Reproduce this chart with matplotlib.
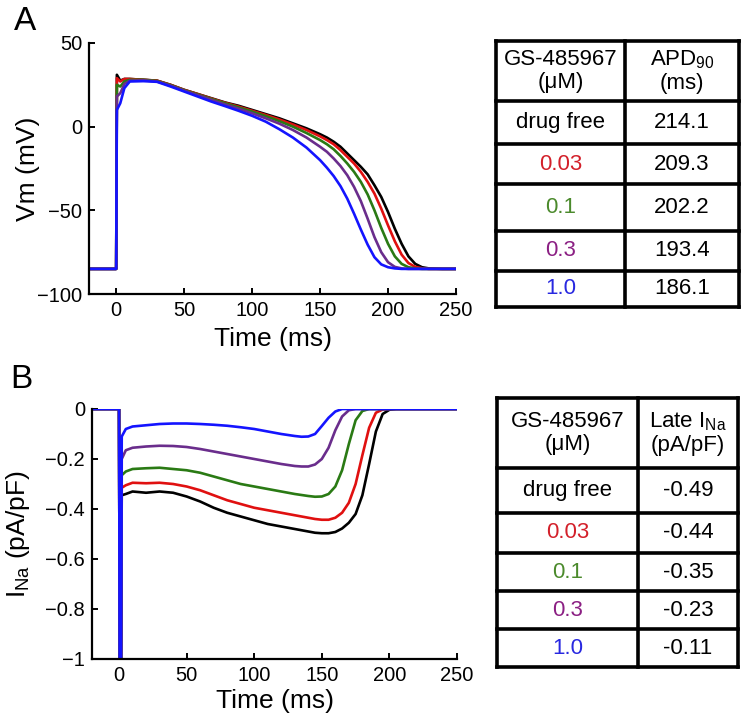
import matplotlib
matplotlib.use("Agg")
import matplotlib.pyplot as plt

plt.rcParams['font.family'] = ['Liberation Sans', 'DejaVu Sans']
plt.rcParams['mathtext.fontset'] = 'custom'
plt.rcParams['mathtext.rm'] = 'Liberation Sans'
plt.rcParams['mathtext.it'] = 'Liberation Sans'

# ---------------- data ----------------
conc_labels = ["drug free", "0.03", "0.1", "0.3", "1.0"]
apd90 = ["214.1", "209.3", "202.2", "193.4", "186.1"]
late_ina = ["-0.49", "-0.44", "-0.35", "-0.23", "-0.11"]

# Panel A: membrane potential (mV)
t_vm = [-20, 0, 0.5, 3, 6, 10, 20, 30, 40, 50, 60, 70, 80, 90, 100, 110, 120, 130,
        140, 150, 155, 160, 165, 170, 175, 180, 185, 190, 195, 200, 205, 210, 215,
        220, 225, 230, 240, 250]
vm_free = [-85, -85, 31, 27.5, 28.5, 28.5, 28, 27.5, 25, 22, 19.5, 17, 14.5, 12.5, 10,
           7.5, 5, 2, -1, -4.5, -6.5, -9, -12, -16, -20, -24, -28.5, -35, -42, -51, -61,
           -70, -77.5, -82, -84, -84.7, -85, -85]
vm_003 = [-85, -85, 29, 27, 28.5, 28.5, 28, 27.5, 25, 22, 19.5, 16.8, 14.3, 12, 9.5,
          7, 4.3, 1.3, -2, -5.8, -8, -10.5, -14, -18, -22, -27, -33, -40, -49, -59, -68.5,
          -76.5, -81.5, -83.8, -84.6, -85, -85, -85]
vm_01 = [-85, -85, 25, 24, 27, 28, 28, 27.3, 24.8, 21.8, 19.2, 16.5, 14, 11.5, 9, 6.3,
         3.3, 0, -3.8, -8, -10.5, -13.5, -17.5, -22, -27, -33, -40.5, -50, -60.5, -70,
         -77.5, -82, -84, -84.7, -85, -85, -85, -85]
vm_03 = [-85, -85, 18, 20, 25.5, 27.5, 27.7, 27, 24.5, 21.5, 18.8, 16, 13.3, 10.7, 8, 5,
         1.8, -2, -6.5, -12, -15, -19, -23.5, -29, -36, -44.5, -55, -66, -75, -81, -83.8,
         -84.7, -85, -85, -85, -85, -85, -85]
vm_10 = [-85, -85, 10, 14, 23, 27, 27.2, 26.8, 24, 21, 18, 15, 12.3, 9.5, 6.5, 3, -1.5,
         -6.5, -12.5, -20, -24.5, -29.5, -35.5, -43, -52, -61.5, -70.5, -78, -82.3, -84,
         -84.7, -85, -85, -85, -85, -85, -85, -85]

# Panel B: sodium current (pA/pF)
t_ina = [-20, 0, 0.5, 1.5, 2, 5, 10, 20, 30, 40, 50, 60, 70, 80, 90, 100, 110, 120, 130,
         135, 140, 145, 150, 155, 160, 165, 170, 175, 180, 185, 190, 195, 200, 205, 250]
ina_free = [0, 0, -1, -1, -0.345, -0.34, -0.33, -0.335, -0.33, -0.335, -0.35, -0.37,
            -0.395, -0.415, -0.43, -0.445, -0.46, -0.47, -0.48, -0.485, -0.49, -0.495,
            -0.497, -0.497, -0.492, -0.478, -0.455, -0.42, -0.345, -0.22, -0.09, -0.02,
            -0.003, 0, 0]
ina_003 = [0, 0, -1, -1, -0.315, -0.305, -0.295, -0.297, -0.295, -0.3, -0.31, -0.325,
           -0.345, -0.365, -0.38, -0.395, -0.405, -0.415, -0.425, -0.43, -0.435, -0.44,
           -0.443, -0.443, -0.435, -0.415, -0.375, -0.3, -0.185, -0.075, -0.015, -0.002, 0,
           0, 0]
ina_01 = [0, 0, -1, -1, -0.265, -0.25, -0.24, -0.237, -0.235, -0.24, -0.245, -0.255,
          -0.27, -0.285, -0.3, -0.31, -0.32, -0.33, -0.34, -0.344, -0.348, -0.351, -0.35,
          -0.34, -0.31, -0.245, -0.14, -0.045, -0.008, 0, 0, 0, 0, 0, 0]
ina_03 = [0, 0, -1, -1, -0.2, -0.165, -0.155, -0.15, -0.147, -0.148, -0.152, -0.16,
          -0.17, -0.18, -0.19, -0.2, -0.21, -0.22, -0.228, -0.23, -0.23, -0.222, -0.2,
          -0.155, -0.085, -0.03, -0.005, 0, 0, 0, 0, 0, 0, 0, 0]
ina_10 = [0, 0, -1, -1, -0.11, -0.08, -0.07, -0.065, -0.06, -0.058, -0.058, -0.06,
          -0.063, -0.067, -0.073, -0.08, -0.09, -0.1, -0.108, -0.111, -0.11, -0.1, -0.068,
          -0.035, -0.01, 0, 0, 0, 0, 0, 0, 0, 0, 0, 0]

vm_series = [vm_free, vm_003, vm_01, vm_03, vm_10]
ina_series = [ina_free, ina_003, ina_01, ina_03, ina_10]

# ---------------- styles ----------------
line_colors = ["#000000", "#e01010", "#2a7a14", "#6a2d8c", "#1414ff"]
text_colors = ["#000000", "#d3202a", "#4b8a2c", "#8b1f83", "#2828e0"]

W, H = 750, 723
fig = plt.figure(figsize=(W / 100, H / 100), dpi=100)


def px_axes(left, top, right, bottom):
    return fig.add_axes([left / W, 1 - bottom / H, (right - left) / W, (bottom - top) / H])


def style_axes(ax):
    for s in ["top", "right"]:
        ax.spines[s].set_visible(False)
    for s in ["left", "bottom"]:
        ax.spines[s].set_linewidth(1.6)
    ax.tick_params(direction="in", length=4, width=1.4, labelsize=14.5, pad=5)


# Panel A
axA = px_axes(89, 43, 456, 294)
for y, c in zip(vm_series, line_colors):
    axA.plot(t_vm, y, color=c, lw=1.9, solid_joinstyle="round")
axA.set_xlim(-20, 250)
axA.set_ylim(-100, 50)
axA.set_xticks([0, 50, 100, 150, 200, 250])
axA.set_yticks([-100, -50, 0, 50])
style_axes(axA)
axA.set_xlabel("Time (ms)", fontsize=19)
axA.set_ylabel("Vm (mV)", fontsize=19)
axA.xaxis.set_label_coords(0.5, -0.13)
axA.yaxis.set_label_coords(-0.134, 0.5)

# Panel B
axB = px_axes(92, 409, 457, 659)
for y, c in zip(ina_series, line_colors):
    axB.plot(t_ina, y, color=c, lw=1.9, solid_joinstyle="round")
axB.set_xlim(-20, 250)
axB.set_ylim(-1, 0)
axB.set_xticks([0, 50, 100, 150, 200, 250])
axB.set_yticks([-1, -0.8, -0.6, -0.4, -0.2, 0])
axB.set_yticklabels(["\u22121", "\u22120.8", "\u22120.6", "\u22120.4", "\u22120.2", "0"])
style_axes(axB)
axB.set_xlabel("Time (ms)", fontsize=19)
axB.set_ylabel("I$_{\\rm Na}$ (pA/pF)", fontsize=19)
axB.xaxis.set_label_coords(0.5, -0.12)
axB.yaxis.set_label_coords(-0.164, 0.5)

fig.text(25 / W, 1 - 21 / H, "A", fontsize=24, ha="center", va="center")
fig.text(21 / W, 1 - 379 / H, "B", fontsize=24, ha="center", va="center")


def draw_table(xl, xm, xr, rows, header2, values):
    ax = px_axes(xl - 5, rows[0] - 5, xr + 5, rows[-1] + 5)
    ax.set_xlim(xl - 5, xr + 5)
    ax.set_ylim(rows[-1] + 5, rows[0] - 5)
    ax.axis("off")
    lw = 2.6
    for y in rows:
        ax.plot([xl, xr], [y, y], color="black", lw=lw, solid_capstyle="projecting")
    for x in (xl, xm, xr):
        ax.plot([x, x], [rows[0], rows[-1]], color="black", lw=lw, solid_capstyle="projecting")
    c1 = (xl + xm) / 2
    c2 = (xm + xr) / 2
    hy = (rows[0] + rows[1]) / 2
    ax.text(c1, hy, "GS-485967\n(\u03bcM)", ha="center", va="center", fontsize=16,
            linespacing=1.1)
    ax.text(c2, hy, header2, ha="center", va="center", fontsize=16, linespacing=1.1)
    for i, (lab, val) in enumerate(zip(conc_labels, values)):
        cy = (rows[i + 1] + rows[i + 2]) / 2
        ax.text(c1, cy, lab, ha="center", va="center", fontsize=16, color=text_colors[i])
        ax.text(c2, cy, val, ha="center", va="center", fontsize=16, color="black")


draw_table(496, 625, 739, [41, 101, 144, 184, 231, 271, 307],
           "APD$_{\\rm 90}$\n(ms)", apd90)
draw_table(497, 638, 738, [398, 468, 513, 553, 591, 629, 667],
           "Late I$_{\\rm Na}$\n(pA/pF)", late_ina)

fig.savefig("out.png", dpi=100)
